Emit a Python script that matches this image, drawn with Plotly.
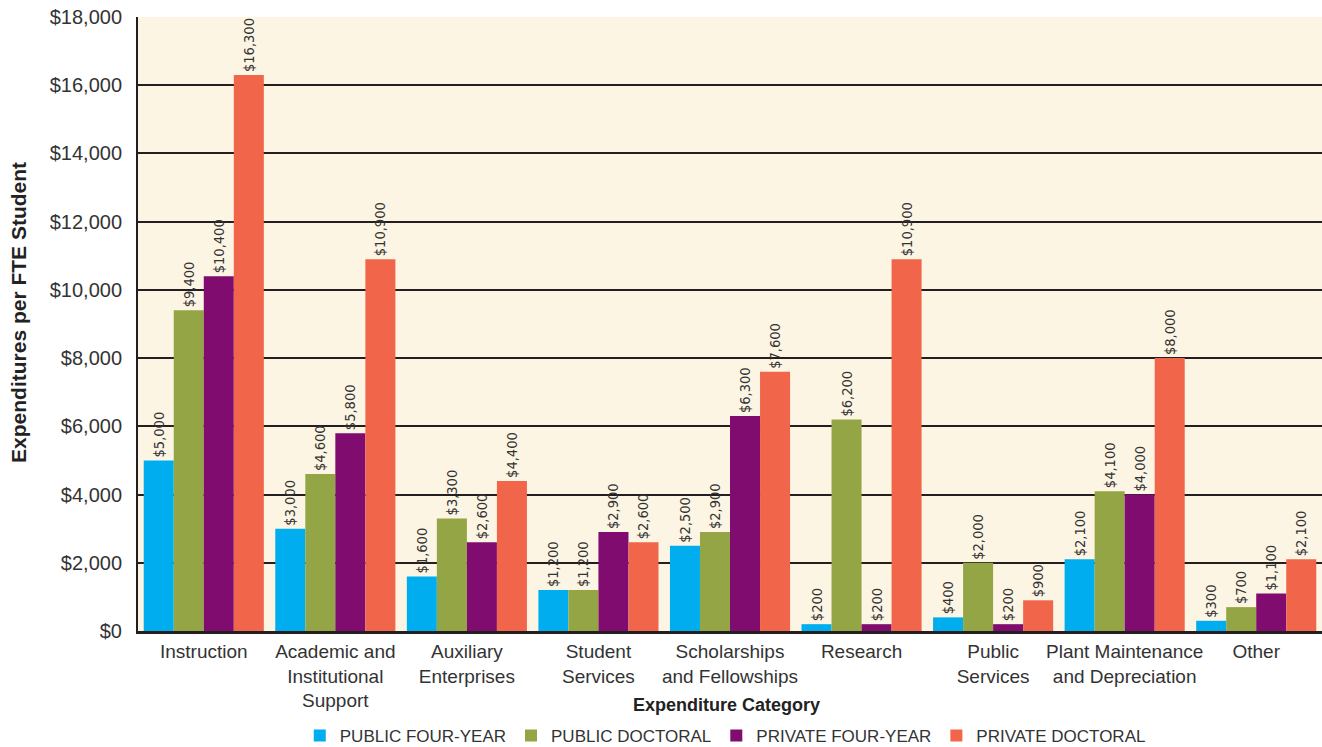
import plotly.graph_objects as go

categories = ["Instruction", "Academic and<br>Institutional<br>Support", "Auxiliary<br>Enterprises",
              "Student<br>Services", "Scholarships<br>and Fellowships", "Research",
              "Public<br>Services", "Plant Maintenance<br>and Depreciation", "Other"]
series_names = ["PUBLIC FOUR-YEAR", "PUBLIC DOCTORAL", "PRIVATE FOUR-YEAR", "PRIVATE DOCTORAL"]
public_four_year = [5000, 3000, 1600, 1200, 2500, 200, 400, 2100, 300]
public_doctoral = [9400, 4600, 3300, 1200, 2900, 6200, 2000, 4100, 700]
private_four_year = [10400, 5800, 2600, 2900, 6300, 200, 200, 4000, 1100]
private_doctoral = [16300, 10900, 4400, 2600, 7600, 10900, 900, 8000, 2100]
tick_values = [0, 2000, 4000, 6000, 8000, 10000, 12000, 14000, 16000, 18000]
tick_labels = ["$0", "$2,000", "$4,000", "$6,000", "$8,000", "$10,000", "$12,000", "$14,000", "$16,000", "$18,000"]

colors = ["#00AEEF", "#94A545", "#7F0C6E", "#F1654A"]
all_series = [public_four_year, public_doctoral, private_four_year, private_doctoral]

fig = go.Figure()
for name, vals, col in zip(series_names, all_series, colors):
    fig.add_trace(go.Bar(
        x=categories, y=vals, name=name, marker=dict(color=col, line=dict(width=0)),
        text=[f"${v:,}" for v in vals], textposition="outside", textangle=-90,
        constraintext="none",
        textfont=dict(family="DejaVu Sans Condensed, Liberation Sans Narrow, Liberation Sans, sans-serif",
                      size=14.5, color="#333333"),
        cliponaxis=False,
    ))

fig.update_layout(
    width=1322, height=747,
    margin=dict(l=138, r=0, t=17, b=116, autoexpand=False),
    paper_bgcolor="white", plot_bgcolor="#FDF5E4",
    barmode="group", bargap=0.087, bargroupgap=0,
    font=dict(family="Liberation Sans, Arial, sans-serif", color="#333333"),
    showlegend=True,
    legend=dict(orientation="h", x=0.496, xanchor="center", y=-0.171, yanchor="middle",
                font=dict(size=17, color="#333333"), traceorder="normal"),
)
fig.update_yaxes(range=[0, 18000], tickvals=tick_values, ticktext=tick_labels,
                 showgrid=True, gridcolor="#231F20", gridwidth=2,
                 showline=True, linecolor="#231F20", linewidth=2,
                 ticks="", ticklabelstandoff=10, tickfont=dict(size=20, color="#333333"),
                 ticklabeloverflow="allow",
                 zeroline=False, automargin=False)
fig.update_xaxes(showline=True, linecolor="#231F20", linewidth=3, ticks="",
                 tickfont=dict(size=19, color="#333333"), range=[-0.5, 8.5], ticklabelstandoff=1,
                 ticklabeloverflow="allow", automargin=False)

fig.add_annotation(text="<b>Expenditures per FTE Student</b>", xref="paper", yref="paper",
                   x=-0.1005, y=0.518, textangle=-90, showarrow=False, font=dict(size=21, color="#222222"),
                   xanchor="center", yanchor="middle")
fig.add_annotation(text="<b>Expenditure Category</b>", xref="paper", yref="paper",
                   x=0.497, y=-0.1205, showarrow=False, font=dict(size=18, color="#222222"),
                   xanchor="center", yanchor="middle")

# Remove the default page margin so the figure fills the 1322x747 window exactly.
page_fix = ("document.body.style.margin='0';document.body.style.padding='0';"
            "document.documentElement.style.overflow='hidden';document.body.style.overflow='hidden';")
fig.write_html("out.html", post_script=page_fix, config={"displayModeBar": False})
